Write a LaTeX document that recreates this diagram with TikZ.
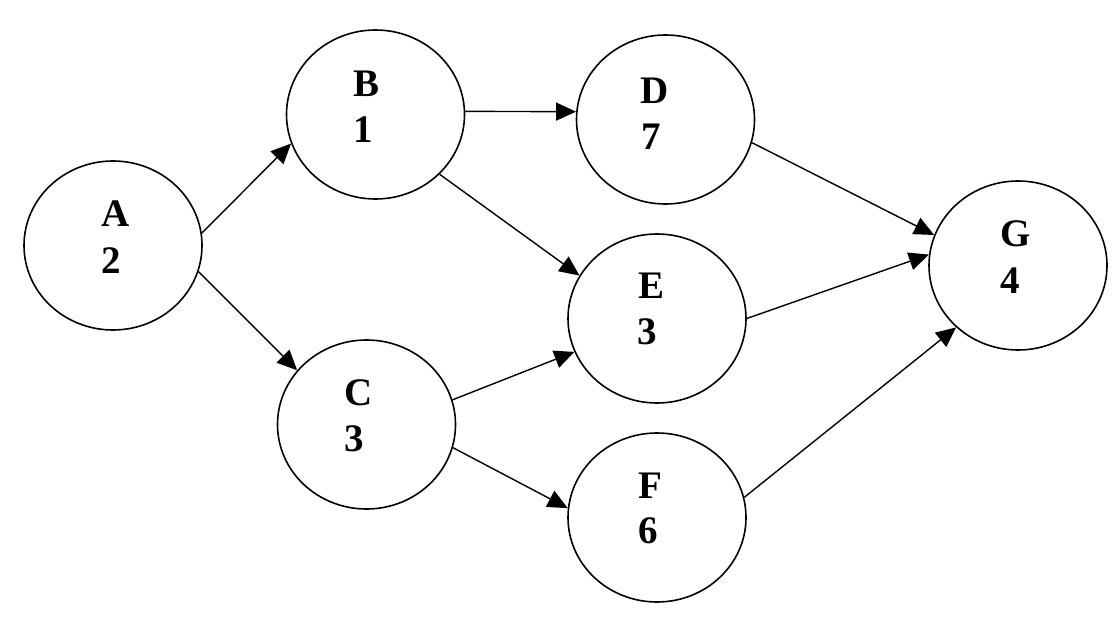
\documentclass[tikz,border=0pt]{standalone}
\usepackage{fontspec}
\setmainfont{Liberation Serif}
\usetikzlibrary{shapes.geometric,arrows.meta}
\begin{document}
\begin{tikzpicture}[x=1pt,y=-1pt,
  state/.style={draw, ellipse, line width=1.6pt, minimum width=178pt, minimum height=169pt, inner sep=0pt},
  lbl/.style={font=\fontsize{39}{46}\selectfont\bfseries, anchor=base west, inner sep=0pt},
  arr/.style={line width=1.4pt, -{Triangle[length=20pt,width=18pt]}}]
\useasboundingbox (0,0) rectangle (1118,620);
\node[state] (A) at (113,245.5) {};
\node[state] (B) at (375.5,114.5) {};
\node[state] (C) at (366.5,424.5) {};
\node[state] (D) at (665.5,119.5) {};
\node[state] (E) at (657,318.5) {};
\node[state] (F) at (657,517.5) {};
\node[state] (G) at (1018,265.5) {};
\node[lbl] (Al) at (101.7,227) {A};
\node[lbl] (An) at (101.7,273) {2};
\node[lbl] (Bl) at (353.3,97) {B};
\node[lbl] (Bn) at (353.3,143) {1};
\node[lbl] (Cl) at (344,405) {C};
\node[lbl] (Cn) at (344,451) {3};
\node[lbl] (Dl) at (640,104) {D};
\node[lbl] (Dn) at (641,150) {7};
\node[lbl] (El) at (638,298) {E};
\node[lbl] (En) at (637,344) {3};
\node[lbl] (Fl) at (638,498) {F};
\node[lbl] (Fn) at (638,543) {6};
\node[lbl] (Gl) at (1000,247) {G};
\node[lbl] (Gn) at (1000,293) {4};
\draw[arr] (A.8) -- (B.199);
\draw[arr] (A.-17) -- (C.142.7);
\draw[arr] (B.2) -- (D.175);
\draw[arr] (B.-43.6) -- (E.151);
\draw[arr] (C.16) -- (E.202);
\draw[arr] (C.-15.4) -- (F.174);
\draw[arr] (D.-15) -- (G.160);
\draw[arr] (E.0) -- (G.173.4);
\draw[arr] (F.13.3) -- (G.225);
\end{tikzpicture}
\end{document}
